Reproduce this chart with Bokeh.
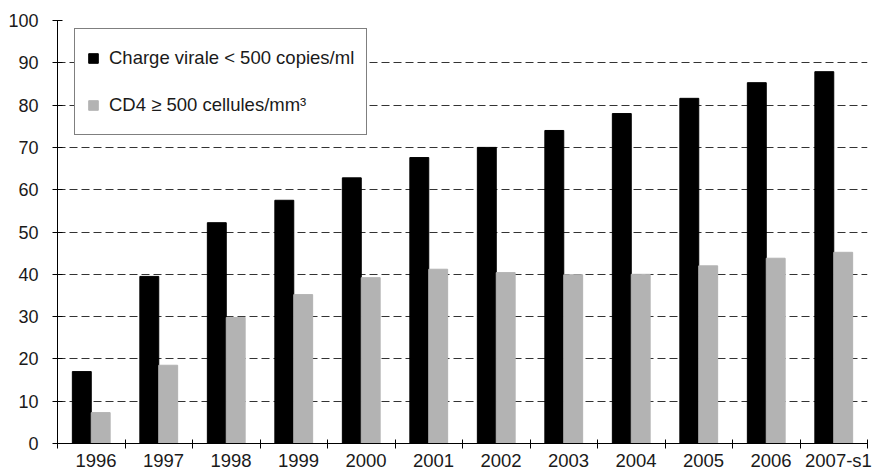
from bokeh.plotting import figure
from bokeh.models import ColumnDataSource, FixedTicker, Legend, LegendItem, Range1d
from bokeh.embed import file_html
from bokeh.resources import INLINE

years = ["1996", "1997", "1998", "1999", "2000", "2001", "2002", "2003", "2004", "2005", "2006", "2007-s1"]
charge_virale = [17.0, 39.5, 52.2, 57.5, 62.8, 67.6, 70.0, 74.0, 78.0, 81.6, 85.3, 87.9]
cd4 = [7.3, 18.5, 29.8, 35.2, 39.2, 41.2, 40.4, 39.9, 40.0, 42.0, 43.8, 45.2]
y_ticks = [0, 10, 20, 30, 40, 50, 60, 70, 80, 90, 100]

n = len(years)
xc = [i + 0.5 for i in range(n)]
src = ColumnDataSource(dict(
    xb=[x - 0.14 for x in xc],
    xg=[x + 0.14 for x in xc],
    cv=charge_virale,
    cd=cd4,
))

FONT = "Liberation Sans"

p = figure(width=875, height=473, output_backend="svg", toolbar_location=None,
           x_range=Range1d(0, n), y_range=Range1d(0, 100),
           min_border_left=57, min_border_right=8, min_border_top=20, min_border_bottom=28)
p.outline_line_color = None
p.background_fill_color = "white"

rb = p.vbar(x="xb", top="cv", width=0.28, source=src, fill_color="#000000", line_color="#000000")
rg = p.vbar(x="xg", top="cd", width=0.28, source=src, fill_color="#b3b3b3", line_color="#b3b3b3")

# y axis
p.yaxis.ticker = FixedTicker(ticks=y_ticks, minor_ticks=[])
p.yaxis.axis_line_color = "black"
p.yaxis.major_tick_in = 5
p.yaxis.major_tick_out = 5
p.yaxis.major_tick_line_color = "black"
p.yaxis.minor_tick_line_color = None
p.yaxis.major_label_text_font = FONT
p.yaxis.major_label_text_font_size = "18px"
p.yaxis.major_label_text_color = "#1a1a1a"
p.yaxis.major_label_standoff = 14

# x axis: labels at centers, ticks at boundaries
p.xaxis.ticker = FixedTicker(ticks=[x + 0.07 for x in xc], minor_ticks=[float(i) for i in range(n + 1)])
p.xaxis.major_label_overrides = {x + 0.07: y for x, y in zip(xc, years)}
p.xaxis.major_tick_in = 0
p.xaxis.major_tick_out = 0
p.xaxis.minor_tick_in = 4
p.xaxis.minor_tick_out = 5
p.xaxis.minor_tick_line_color = "black"
p.xaxis.axis_line_color = "black"
p.xaxis.major_label_text_font = FONT
p.xaxis.major_label_text_font_size = "18.5px"
p.xaxis.major_label_text_color = "#1a1a1a"
p.xaxis.major_label_text_line_height = 1.0
p.xaxis.major_label_standoff = 1

p.xgrid.grid_line_color = None
p.ygrid.ticker = FixedTicker(ticks=y_ticks[1:])
p.ygrid.grid_line_color = "#333333"
p.ygrid.grid_line_dash = "8 4"
p.ygrid.grid_line_width = 1

legend = Legend(items=[
    LegendItem(label="Charge virale < 500 copies/ml", renderers=[rb]),
    LegendItem(label="CD4 \u2265 500 cellules/mm\u00b3", renderers=[rg]),
], location=(17, 308))
legend.label_text_font = FONT
legend.label_text_font_size = "18.5px"
legend.label_text_color = "#1a1a1a"
legend.glyph_width = 12
legend.glyph_height = 12
legend.label_height = 34
legend.label_standoff = 10
legend.padding = 12
legend.spacing = 13
legend.border_line_color = "black"
legend.border_line_width = 1
legend.background_fill_alpha = 1.0
legend.margin = 0
p.add_layout(legend, "center")

open("out.html", "w").write(file_html(p, INLINE))
